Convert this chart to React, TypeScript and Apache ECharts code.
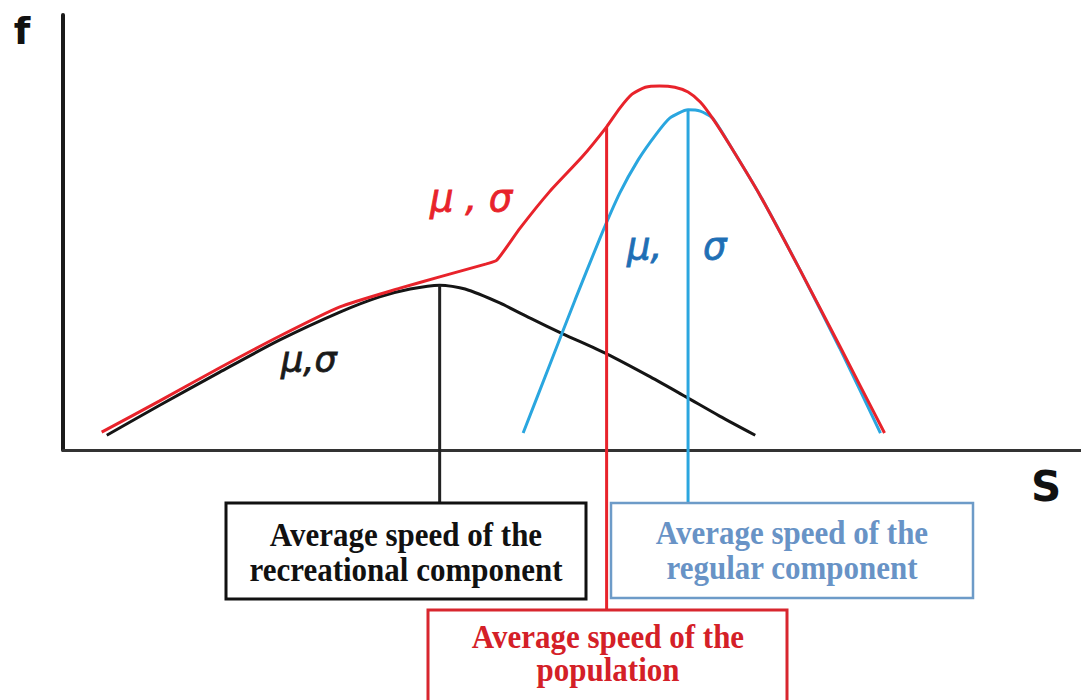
import React, { useEffect, useRef } from "react";
import * as echarts from "echarts";

// Speed (x, 0..100) and density (y, 0..1) of the three distributions
const recreationalCurve: [number, number][] = [
  [4.3, 0.034], [9.5, 0.103], [15.4, 0.179], [21.3, 0.253], [27.2, 0.317],
  [31.1, 0.352], [34.1, 0.37], [37.0, 0.379], [39.5, 0.37], [42.9, 0.338],
  [45.9, 0.303], [49.1, 0.267], [53.4, 0.221], [57.7, 0.168], [61.2, 0.122],
  [64.5, 0.078], [68.0, 0.034],
];
const regularCurve: [number, number][] = [
  [45.2, 0.039], [47.8, 0.195], [50.3, 0.345], [52.8, 0.49], [54.7, 0.591],
  [56.5, 0.667], [58.2, 0.724], [59.6, 0.763], [61.4, 0.782], [62.6, 0.779],
  [63.8, 0.763], [65.5, 0.701], [68.5, 0.584], [72.4, 0.414], [76.3, 0.234], [80.3, 0.039],
];
const populationCurve: [number, number][] = [
  [3.8, 0.041], [9.5, 0.113], [15.4, 0.189], [21.3, 0.262], [27.2, 0.329],
  [33.1, 0.372], [37.0, 0.398], [41.6, 0.428], [42.6, 0.436], [44.9, 0.51],
  [47.8, 0.594], [51.0, 0.674], [53.4, 0.743], [54.7, 0.786], [55.9, 0.818],
  [57.2, 0.834], [58.6, 0.837], [60.1, 0.834], [61.4, 0.823], [62.6, 0.8],
  [63.8, 0.763], [65.5, 0.701], [68.5, 0.584], [72.4, 0.414], [76.3, 0.239], [80.7, 0.039],
];

const recreationalMean = 37.0;
const recreationalPeak = 0.379;
const populationMean = 53.4;
const populationAtMean = 0.743;
const regularMean = 61.4;
const regularPeak = 0.782;

const recreationalLabel = ["Average speed of the", "recreational component"];
const regularLabel = ["Average speed of the", "regular component"];
const populationLabel = ["Average speed of the", "population"];

const RED = "#e8232b";
const BLUE = "#2aa6df";
const BLACK = "#151515";

export default function App() {
  const ref = useRef<HTMLDivElement>(null);
  useEffect(() => {
    if (!ref.current) return;
    const chart = echarts.init(ref.current, undefined, { renderer: "svg" });
    const serif = '"Liberation Serif", "Times New Roman", serif';
    const boxText = (lines: string[], cx: number, ys: number[], color: string) =>
      lines.map((t, i) => ({
        type: "text",
        x: cx,
        y: ys[i],
        scaleY: 1.1,
        style: {
          text: t,
          fill: color,
          font: `bold 31px ${serif}`,
          textAlign: "center",
          textVerticalAlign: "middle",
        },
        z: 20,
      }));
    const greek = (text: string, x: number, y: number, color: string, size: number) => ({
      type: "text",
      x,
      y,
      style: {
        text,
        fill: color,
        font: `italic ${size}px "DejaVu Sans", Verdana, sans-serif`,
        textAlign: "left",
        textVerticalAlign: "middle",
        stroke: color,
        lineWidth: 0.8,
      },
      z: 20,
    });
    const vline = (x: number, top: number, bottom: number, color: string) => ({
      type: "line",
      data: [[x, top], [x, bottom]],
      symbol: "none",
      clip: false,
      lineStyle: { color, width: 3 },
      z: 5,
      silent: true,
    });
    chart.setOption({
      animation: false,
      grid: { left: 63, top: 15, right: 0, bottom: 250 },
      xAxis: {
        type: "value",
        min: 0,
        max: 100,
        axisLine: { show: true, onZero: false, lineStyle: { color: "#333", width: 3 } },
        axisTick: { show: false },
        axisLabel: { show: false },
        splitLine: { show: false },
      },
      yAxis: {
        type: "value",
        min: 0,
        max: 1,
        axisLine: { show: true, onZero: false, lineStyle: { color: "#1a1a1a", width: 4 } },
        axisTick: { show: false },
        axisLabel: { show: false },
        splitLine: { show: false },
      },
      series: [
        {
          type: "line",
          data: recreationalCurve,
          symbol: "none",
          smooth: 0.25,
          lineStyle: { color: BLACK, width: 3 },
          z: 2,
        },
        {
          type: "line",
          data: regularCurve,
          symbol: "none",
          smooth: 0.2,
          lineStyle: { color: BLUE, width: 3 },
          z: 3,
        },
        {
          type: "line",
          data: populationCurve,
          symbol: "none",
          smooth: 0.2,
          lineStyle: { color: RED, width: 3 },
          z: 4,
        },
        vline(recreationalMean, recreationalPeak, -0.122, "#222"),
        vline(populationMean, populationAtMean, -0.368, RED),
        vline(regularMean, regularPeak, -0.12, BLUE),
      ],
      graphic: [
        {
          type: "text",
          x: 22,
          y: 31,
          style: {
            text: "f",
            fill: "#111",
            font: 'bold 38px "DejaVu Sans", Verdana, sans-serif',
            textAlign: "center",
            textVerticalAlign: "middle",
          },
        },
        {
          type: "text",
          x: 1046,
          y: 486,
          style: {
            text: "S",
            fill: "#111",
            font: 'bold 42px "DejaVu Sans", Verdana, sans-serif',
            textAlign: "center",
            textVerticalAlign: "middle",
          },
        },
        greek("μ , σ", 430, 198, RED, 37),
        greek("μ,", 627, 246, "#1f6fb5", 37),
        greek("σ", 703, 246, "#1f6fb5", 37),
        greek("μ,σ", 281, 360, "#1a1a1a", 35),
        {
          type: "rect",
          shape: { x: 226, y: 503, width: 360, height: 96 },
          style: { fill: "#fff", stroke: "#111", lineWidth: 3 },
          z: 10,
        },
        {
          type: "rect",
          shape: { x: 611, y: 503, width: 362, height: 95 },
          style: { fill: "#fff", stroke: "#6d9bc8", lineWidth: 2.5 },
          z: 10,
        },
        {
          type: "rect",
          shape: { x: 428, y: 610, width: 359, height: 100 },
          style: { fill: "#fff", stroke: "#d8262e", lineWidth: 3 },
          z: 10,
        },
        ...boxText(recreationalLabel, 406, [534, 569], "#111"),
        ...boxText(regularLabel, 792, [532, 567], "#6893c6"),
        ...boxText(populationLabel, 608, [636, 669], "#d42027"),
      ],
    });
    return () => chart.dispose();
  }, []);
  return (
    <div
      ref={ref}
      style={{ position: "fixed", left: 0, top: 0, width: 1081, height: 700, background: "#fff" }}
    />
  );
}
